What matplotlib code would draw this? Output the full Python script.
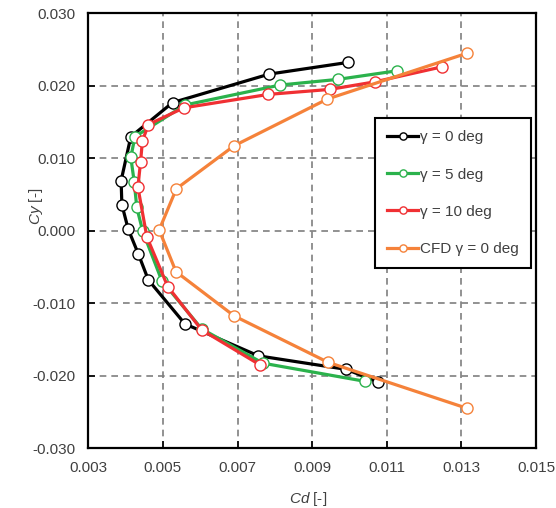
import matplotlib
matplotlib.use('Agg')
import matplotlib.pyplot as plt

plt.rcParams['font.family'] = ['Liberation Sans', 'DejaVu Sans']
plt.rcParams['mathtext.fontset'] = 'custom'
plt.rcParams['mathtext.it'] = 'Liberation Sans:italic'
plt.rcParams['mathtext.rm'] = 'Liberation Sans'

# gamma = 0 deg
cd0 = [0.00997, 0.00785, 0.00526, 0.00414, 0.00388, 0.00390, 0.00407, 0.00434, 0.00461, 0.00559, 0.00756, 0.00992, 0.01077]
cy0 = [0.02323, 0.02161, 0.01768, 0.01297, 0.00690, 0.00360, 0.00020, -0.00320, -0.00680, -0.01287, -0.01728, -0.01915, -0.02090]

# gamma = 5 deg
cd5 = [0.01128, 0.00969, 0.00814, 0.00559, 0.00425, 0.00414, 0.00423, 0.00430, 0.00446, 0.00497, 0.00604, 0.00768, 0.01042]
cy5 = [0.02207, 0.02088, 0.02010, 0.01734, 0.01297, 0.01010, 0.00676, 0.00320, -0.00010, -0.00690, -0.01356, -0.01829, -0.02080]

# gamma = 10 deg
cd10 = [0.01249, 0.01069, 0.00948, 0.00783, 0.00556, 0.00461, 0.00445, 0.00440, 0.00433, 0.00457, 0.00513, 0.00604, 0.00760]
cy10 = [0.02262, 0.02055, 0.01950, 0.01881, 0.01695, 0.01465, 0.01235, 0.00945, 0.00599, -0.00087, -0.00772, -0.01370, -0.01852]

# CFD gamma = 0 deg
cd_cfd = [0.01314, 0.00941, 0.00691, 0.00536, 0.00490, 0.00535, 0.00691, 0.00943, 0.01314]
cy_cfd = [0.02447, 0.01817, 0.01172, 0.00578, 0.00010, -0.00566, -0.01177, -0.01818, -0.02450]

series = [
    (cd0, cy0, 'black', '\u03b3 = 0 deg'),
    (cd5, cy5, '#2bb24c', '\u03b3 = 5 deg'),
    (cd10, cy10, '#f03033', '\u03b3 = 10 deg'),
    (cd_cfd, cy_cfd, '#f5823a', 'CFD \u03b3 = 0 deg'),
]

txt = '#404040'

fig = plt.figure(figsize=(5.56, 5.08), dpi=100)
ax = fig.add_axes([0.1588, 0.1181, 0.8052, 0.8557])

for x, y, c, lab in series:
    ax.plot(x, y, '-o', color=c, lw=2.3, ms=8, mfc='white', mec=c, mew=1.0, label=lab, zorder=3)

ax.set_xlim(0.003, 0.015)
ax.set_ylim(-0.030, 0.030)
ax.set_xticks([0.003, 0.005, 0.007, 0.009, 0.011, 0.013, 0.015])
ax.set_yticks([-0.03, -0.02, -0.01, 0.0, 0.01, 0.02, 0.03])
ax.set_xticklabels(['0.003', '0.005', '0.007', '0.009', '0.011', '0.013', '0.015'])
ax.set_yticklabels(['-0.030', '-0.020', '-0.010', '0.000', '0.010', '0.020', '0.030'])
ax.tick_params(direction='in', length=5, width=1.2, labelsize=11, color='black',
               labelcolor=txt, pad=9)
ax.grid(True, ls=(0, (4, 3)), color='#7f7f7f', lw=1.2)
for s in ax.spines.values():
    s.set_linewidth(1.6)

ax.set_xlabel('$\\it{Cd}$ [-]', fontsize=11, color=txt)
ax.set_ylabel('$\\it{Cy}$ [-]', fontsize=11, color=txt)
ax.xaxis.set_label_coords(0.491, -0.097)
ax.yaxis.set_label_coords(-0.097, 0.557)

leg = ax.legend(loc='upper left', bbox_to_anchor=(0.640, 0.759), fontsize=11,
                handlelength=2.05, handletextpad=0.1, labelspacing=1.52,
                borderpad=0.8, borderaxespad=0, markerscale=0.65,
                fancybox=False, framealpha=1, edgecolor='black')
leg.get_frame().set_linewidth(1.5)
for t in leg.get_texts():
    t.set_color(txt)

fig.savefig('out.png', dpi=100)
